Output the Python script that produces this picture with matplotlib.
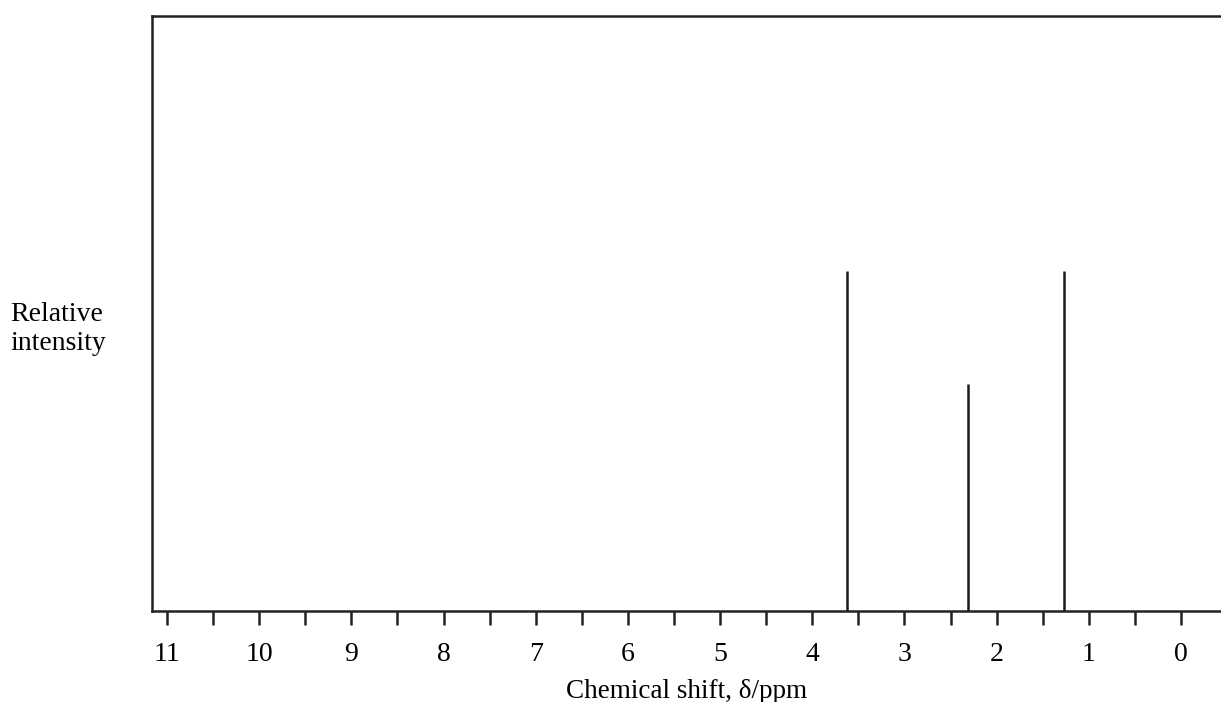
import matplotlib
matplotlib.use("Agg")
import matplotlib.pyplot as plt
import numpy as np

# Data
shifts = [3.62, 2.31, 1.27]
intensities = [3, 2, 3]
major_ticks = list(range(11, -1, -1))
tick_labels = [str(t) for t in major_ticks]
minor_ticks = [t + 0.5 for t in range(0, 11)]

plt.rcParams['font.family'] = ['Liberation Serif', 'DejaVu Serif']

fig = plt.figure(figsize=(12.21, 7.02), dpi=100)
ax = fig.add_axes([152/1221, (702-611)/702, 1 - 152/1221, (611-16)/702])

ax.vlines(shifts, 0, intensities, colors='#1a1a1a', linewidth=1.8)

ax.set_xlim(11.163, -0.434)
ax.set_ylim(0, 5.25)

ax.set_xticks(major_ticks)
ax.set_xticklabels(tick_labels, fontsize=20)
ax.set_xticks(minor_ticks, minor=True)
ax.tick_params(axis='x', which='both', direction='out', length=10, width=1.8,
               color='#222222', pad=12)
ax.set_yticks([])

for s in ['left', 'top', 'bottom']:
    ax.spines[s].set_linewidth(1.8)
    ax.spines[s].set_color('#222222')
ax.spines['right'].set_visible(False)

ax.set_xlabel('Chemical shift, δ/ppm', fontsize=19.5, labelpad=9)

fig.text(10/1221, 1 - 329/702, 'Relative\nintensity', fontsize=20,
         ha='left', va='center', linespacing=1.2)

fig.savefig('out.png', dpi=100)
